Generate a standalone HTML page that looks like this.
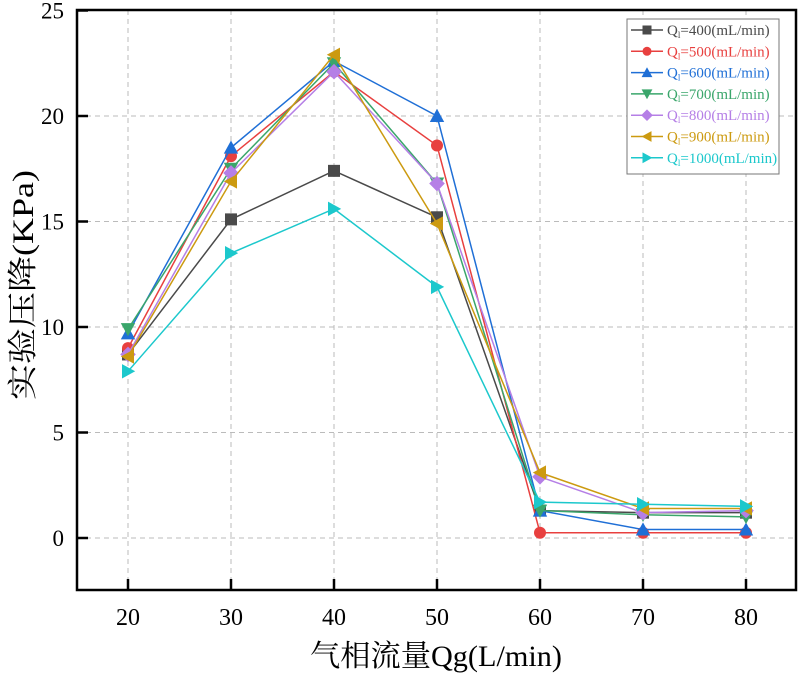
<!DOCTYPE html>
<html><head><meta charset="utf-8"><style>
body{margin:0;background:#fff;}
svg text{font-family:"Liberation Serif","Noto Serif CJK SC",serif;}
</style></head><body>
<svg id="chart" width="801" height="674" viewBox="0 0 801 674">
<g id="grid"></g>
<g id="series"></g>
<rect x="77" y="10" width="719" height="580" fill="none" stroke="#000" stroke-width="2.5"/>
<g id="ticks"></g>
<text x="436" y="666" font-size="30" text-anchor="middle" textLength="252" lengthAdjust="spacingAndGlyphs">气相流量Qg(L/min)</text>
<text transform="translate(33,285) rotate(-90)" font-size="30" text-anchor="middle" textLength="230" lengthAdjust="spacingAndGlyphs">实验压降(KPa)</text>
<g id="legend"></g>
</svg>
<script>
const categories=[20,30,40,50,60,70,80];
const yTicks=[0,5,10,15,20,25];
const seriesNames=["400","500","600","700","800","900","1000"];
const s400=[8.7,15.1,17.4,15.2,1.3,1.2,1.2];
const s500=[9.0,18.1,22.1,18.6,0.25,0.25,0.25];
const s600=[9.7,18.5,22.6,20.0,1.3,0.4,0.4];
const s700=[9.9,17.5,22.5,16.8,1.3,1.1,1.0];
const s800=[8.7,17.3,22.1,16.8,2.9,1.2,1.3];
const s900=[8.6,16.9,22.9,14.9,3.1,1.4,1.4];
const s1000=[7.9,13.5,15.6,11.9,1.7,1.6,1.5];
const allSeries=[s400,s500,s600,s700,s800,s900,s1000];
const colors=["#4a4a4a","#e8403f","#1f6fd6","#3aa66b","#b57fe6","#cc9a10","#1cc8cc"];
const markers=["square","circle","up","down","diamond","left","right"];
const NS="http://www.w3.org/2000/svg";
function X(v){return 128+(v-20)*10.3;}
function Y(v){return 538-v*21.1;}
function mk(tag,attrs,parent){const e=document.createElementNS(NS,tag);for(const k in attrs)e.setAttribute(k,attrs[k]);parent.appendChild(e);return e;}
const grid=document.getElementById('grid'),ticks=document.getElementById('ticks');
categories.forEach(c=>{
  const l=mk('line',{x1:X(c),x2:X(c),y1:10,y2:590,stroke:'#bbb','stroke-dasharray':'5,4'},grid);
  
  
  const t=mk('line',{x1:X(c),x2:X(c),y1:590,y2:579,stroke:'#000','stroke-width':2.5},ticks);
  
  
  const tx=mk('text',{x:X(c),y:625,'font-size':24,'text-anchor':'middle'},ticks);
  tx.textContent=c;
  
  
});
yTicks.forEach(v=>{
  if(v<25){const l=mk('line',{x1:77,x2:796,y1:Y(v),y2:Y(v),stroke:'#bbb','stroke-dasharray':'5,4'},grid);
  
  }
  const t=mk('line',{x1:77,x2:88,y1:Y(v),y2:Y(v),stroke:'#000','stroke-width':2.5},ticks);
  
  
  const tx=mk('text',{x:64,y:Y(v)+8,'font-size':23,'text-anchor':'end'},ticks);
  tx.textContent=v;
  
  
});
function marker(g,type,x,y,col,s){
  let e;
  if(type==='square')e=mk('rect',{x:x-s,y:y-s,width:2*s,height:2*s,fill:col},g);
  else if(type==='circle')e=mk('circle',{cx:x,cy:y,r:s,fill:col},g);
  else{let p;
    if(type==='up')p=[[x,y-s*1.2],[x-s*1.2,y+s],[x+s*1.2,y+s]];
    else if(type==='down')p=[[x,y+s*1.2],[x-s*1.2,y-s],[x+s*1.2,y-s]];
    else if(type==='diamond')p=[[x,y-s*1.3],[x+s*1.3,y],[x,y+s*1.3],[x-s*1.3,y]];
    else if(type==='left')p=[[x-s*1.2,y],[x+s,y-s*1.2],[x+s,y+s*1.2]];
    else p=[[x+s*1.2,y],[x-s,y-s*1.2],[x-s,y+s*1.2]];
    e=mk('polygon',{points:p.map(q=>q.join(',')).join(' '),fill:col},g);}
  return e;
}
const sg=document.getElementById('series');
allSeries.forEach((vals,i)=>{
  const g=mk('g',{},sg);
  
  
  const pl=mk('polyline',{points:vals.map((v,j)=>X(categories[j])+','+Y(v)).join(' '),fill:'none',stroke:colors[i],'stroke-width':1.5},g);
  
  
  vals.forEach((v,j)=>{
    const m=marker(g,markers[i],X(categories[j]),Y(v),colors[i],6);
    
    
  });
});
const lg=document.getElementById('legend');
const box=mk('rect',{x:627,y:19,width:152,height:155,fill:'#fff',stroke:'#777','stroke-width':1},lg);


seriesNames.forEach((n,i)=>{
  const y=30+i*21.3;
  const g=mk('g',{},lg);
  
  
  mk('line',{x1:631,x2:663,y1:y,y2:y,stroke:colors[i],'stroke-width':1.5},g);
  marker(g,markers[i],647,y,colors[i],4.5);
  const t=mk('text',{x:667,y:y+5,'font-size':15,fill:colors[i]},g);
  t.innerHTML='Q<tspan font-size="9" dy="3">l</tspan><tspan dy="-3">='+n+'(mL/min)</tspan>';
});
</script>
</body></html>
